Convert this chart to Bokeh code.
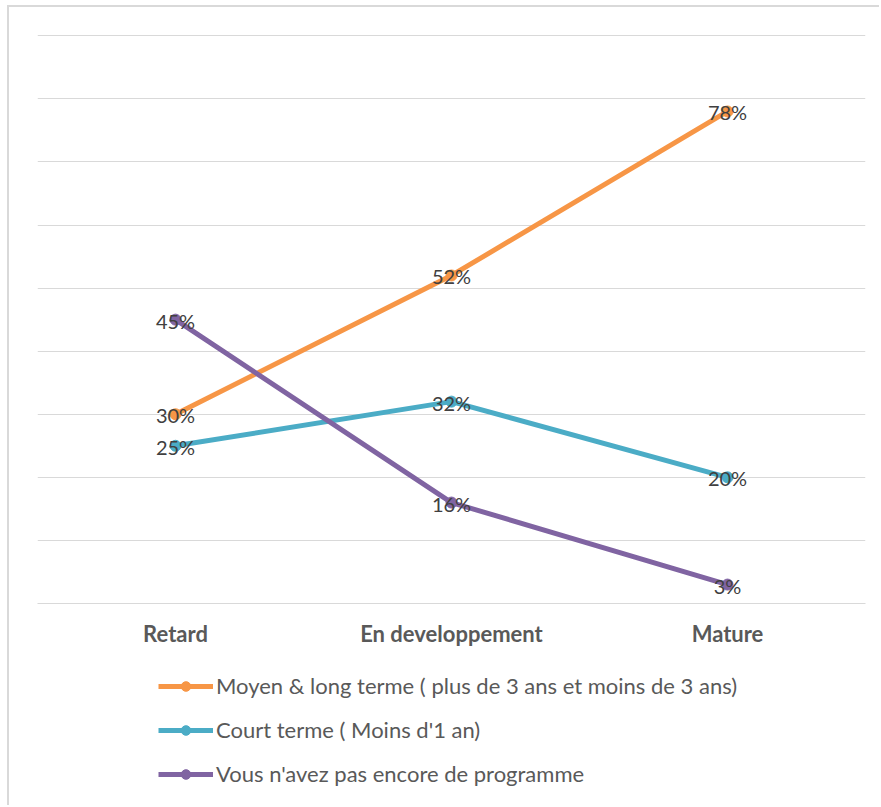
from bokeh.plotting import figure
from bokeh.layouts import column
from bokeh.models import FactorRange, Range1d, Legend, LegendItem, ColumnDataSource, FixedTicker
from bokeh.embed import file_html
from bokeh.resources import INLINE
from bokeh.core.properties import value

categories = ["Retard", "En developpement", "Mature"]
series_names = [
    "Moyen & long terme ( plus de 3 ans et moins de 3 ans)",
    "Court terme ( Moins d'1 an)",
    "Vous n'avez pas encore de programme",
]
moyen_long = [30, 52, 78]
court = [25, 32, 20]
pas_programme = [45, 16, 3]
colors = ["#F79646", "#4BACC6", "#8064A2"]
y_ticks = [0, 10, 20, 30, 40, 50, 60, 70, 80, 90]

FONT = "Lato"
all_series = [moyen_long, court, pas_programme]

p = figure(
    x_range=FactorRange(*categories, range_padding=0),
    y_range=Range1d(0, 90.2),
    width=870, height=655,
    min_border_left=28, min_border_top=27, min_border_right=14, min_border_bottom=59,
    output_backend="svg", toolbar_location=None,
)
p.outline_line_color = None
p.xgrid.visible = False
p.yaxis.visible = False
p.yaxis.ticker = FixedTicker(ticks=y_ticks)
p.ygrid.ticker = FixedTicker(ticks=y_ticks)
p.ygrid.grid_line_color = "#D9D9D9"
p.ygrid.grid_line_width = 1.2

p.xaxis.axis_line_color = "#D9D9D9"
p.xaxis.axis_line_width = 1.2
p.xaxis.major_tick_line_color = None
p.xaxis.minor_tick_line_color = None
p.xaxis.major_label_text_font = FONT
p.xaxis.major_label_text_font_style = "bold"
p.xaxis.major_label_text_font_size = "22px"
p.xaxis.major_label_text_color = "#595959"
p.xaxis.major_label_standoff = 10

for vals, col in zip(all_series, colors):
    src = ColumnDataSource(dict(x=categories, y=vals))
    p.line("x", "y", source=src, line_color=col, line_width=5)
    p.scatter("x", "y", source=src, size=11, color=col)

for vals in all_series:
    src = ColumnDataSource(dict(x=categories, y=vals, lab=[f"{v}%" for v in vals]))
    p.text("x", "y", text="lab", source=src, text_align="center", text_baseline="middle",
           y_offset=1, text_font=value(FONT), text_font_size="20px", text_color="#404040")

# Legend panel (separate figure so the legend is not clipped by the chart frame)
lg = figure(
    x_range=FactorRange(*categories), y_range=Range1d(0, 90),
    width=870, height=143,
    min_border_left=0, min_border_right=0, min_border_top=0, min_border_bottom=0,
    x_axis_location=None, y_axis_location=None,
    output_backend="svg", toolbar_location=None,
)
lg.outline_line_color = None
lg.xgrid.visible = False
lg.ygrid.visible = False
items = []
for name, vals, col in zip(series_names, all_series, colors):
    src = ColumnDataSource(dict(x=categories, y=vals))
    r1 = lg.line("x", "y", source=src, line_color=col, line_width=5, visible=False)
    r2 = lg.scatter("x", "y", source=src, size=12, color=col, visible=False)
    items.append(LegendItem(label=name, renderers=[r1, r2]))

legend = Legend(items=items, location=(121, 18), orientation="vertical")
legend.padding = 0
legend.margin = 0
legend.spacing = 17
legend.glyph_height = 24
legend.label_height = 24
legend.glyph_width = 55
legend.label_standoff = 3
legend.label_text_font = FONT
legend.label_text_font_size = "22px"
legend.label_text_color = "#595959"
legend.border_line_color = None
legend.background_fill_alpha = 0
legend.inactive_fill_alpha = 0
lg.add_layout(legend, "center")

layout = column(p, lg, spacing=0,
                styles={"border-top": "2px solid #D9D9D9", "border-left": "2px solid #D9D9D9",
                        "margin-left": "7px", "margin-top": "5px"})

open("out.html", "w").write(file_html(layout, INLINE))
